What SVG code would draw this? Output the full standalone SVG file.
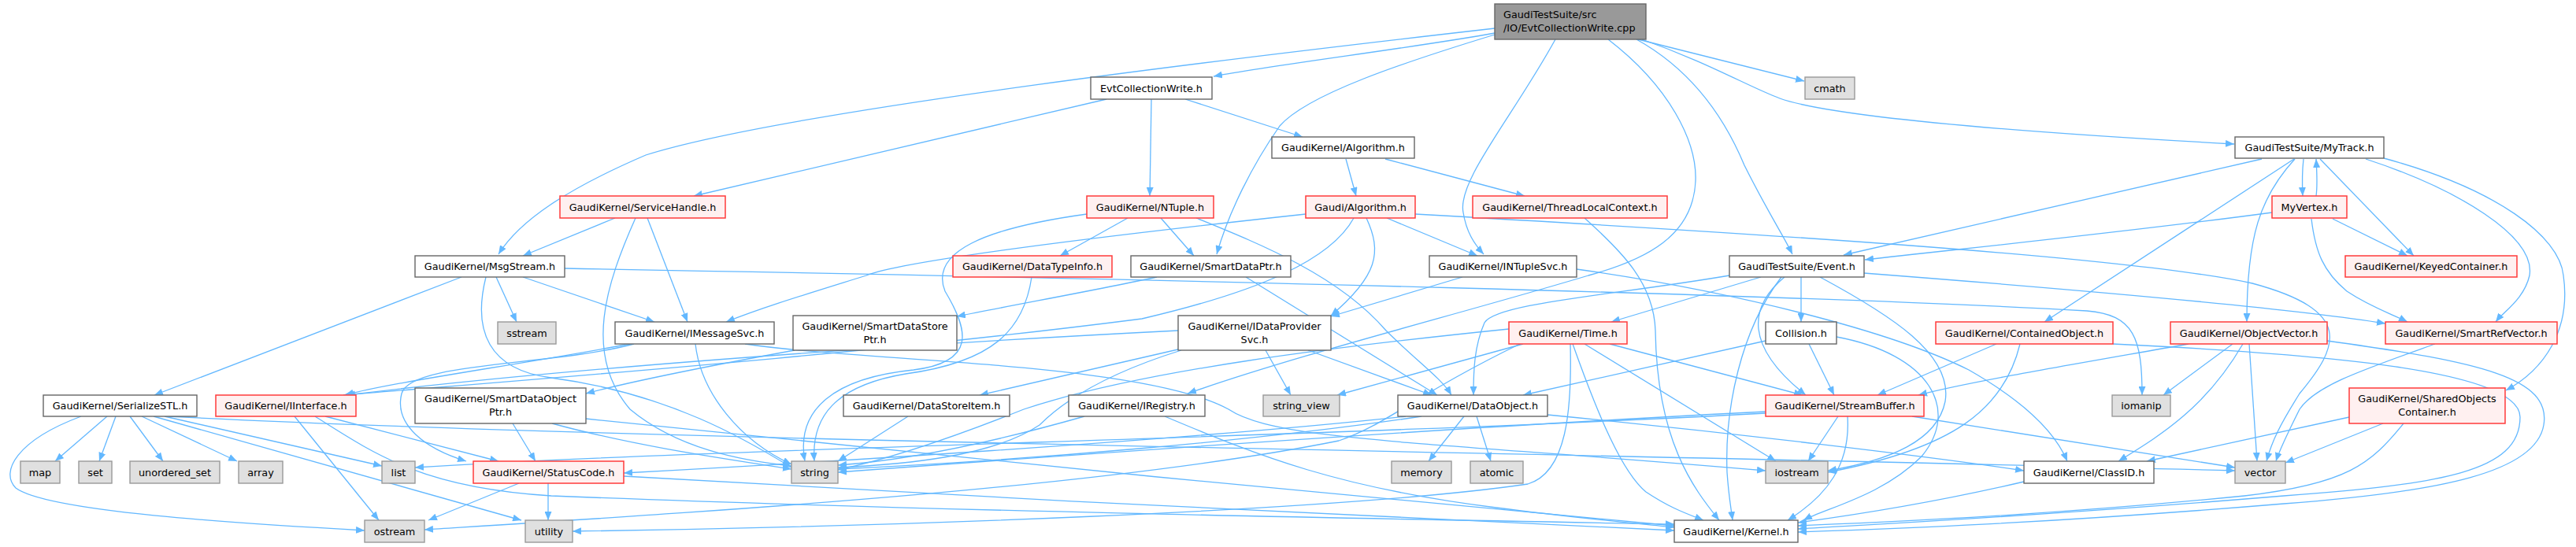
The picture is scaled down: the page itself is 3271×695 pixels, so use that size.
<svg xmlns="http://www.w3.org/2000/svg" width="3271" height="695" viewBox="0 0 3271 695">
<style>
text{font-family:"DejaVu Sans","Liberation Sans",sans-serif;font-size:12.8px;fill:#000;text-anchor:middle}
.n rect{fill:#fff;stroke:#666;stroke-width:1.4}
.r rect{fill:#fff0f0;stroke:#ff3b3b;stroke-width:1.5}
.s rect{fill:#e0e0e0;stroke:#999;stroke-width:1.4}
.m rect{fill:#999;stroke:#666;stroke-width:1.4}
.m text{text-anchor:start}
#edges path{fill:none;stroke:#63b8ff;stroke-width:1.3;marker-end:url(#a)}
</style>
<defs>
<marker id="a" markerUnits="userSpaceOnUse" markerWidth="11" markerHeight="9" refX="11" refY="4.5" orient="auto">
<path d="M0,0 L11,4.5 L0,9 z" fill="#63b8ff"/>
</marker>
</defs>
<rect width="3271" height="695" fill="#fff"/>
<g id="edges">
<path d="M1898,42 C1800,60 1620,82 1541,97"/>
<path d="M1898,36 C1600,70 1000,140 820,197 C720,240 660,280 633,323"/>
<path d="M1898,44 C1780,80 1660,120 1625,160 C1590,210 1560,270 1545,323"/>
<path d="M1975,50 C1920,150 1850,230 1858,270 C1862,295 1872,310 1884,323"/>
<path d="M2042,50 C2120,110 2155,180 2153,230 C2150,300 2090,330 2017,350 C1850,400 1650,450 1508,500"/>
<path d="M2078,50 C2150,90 2190,150 2215,210 C2245,270 2265,300 2276,323"/>
<path d="M2080,50 L2291,103"/>
<path d="M2085,50 C2170,80 2220,110 2260,125 C2330,150 2600,170 2837,183"/>
<path d="M1405,126 L881,249"/>
<path d="M1462,126 L1460,249"/>
<path d="M1505,126 L1654,174"/>
<path d="M1709,202 L1722,249"/>
<path d="M1759,202 L1936,249"/>
<path d="M2872,202 L2341,324"/>
<path d="M2913,202 L2596,409"/>
<path d="M2914,202 C2870,250 2853,300 2853,409"/>
<path d="M2925,202 C2923,220 2923,230 2924,249"/>
<path d="M2941,249 C2943,235 2942,220 2941,202"/>
<path d="M2946,202 L3065,325"/>
<path d="M3004,202 C3120,240 3220,300 3212,350 C3205,380 3180,395 3169,409"/>
<path d="M3027,201 C3170,240 3250,300 3255,350 C3265,420 3230,470 3182,496"/>
<path d="M2885,270 C2700,295 2500,315 2368,330"/>
<path d="M2962,278 L3057,325"/>
<path d="M2935,278 C2940,320 2950,345 2980,370 C3010,390 3035,398 3057,409"/>
<path d="M1797,272 C2200,295 2700,325 2860,360 C2990,395 2970,440 2920,500 C2895,540 2885,560 2878,586"/>
<path d="M1658,272 C1400,300 1150,330 1100,350 C1020,375 970,390 922,409"/>
<path d="M1719,277 C1690,330 1600,370 1450,405 C1100,450 700,480 436,502"/>
<path d="M1735,277 C1755,320 1750,350 1690,401"/>
<path d="M1761,277 L1876,325"/>
<path d="M2012,277 C2060,320 2100,360 2102,420 C2104,560 2150,620 2183,661"/>
<path d="M781,277 L664,325"/>
<path d="M822,277 L873,409"/>
<path d="M807,277 C770,360 740,450 800,520 C860,570 940,585 1005,592"/>
<path d="M1432,277 L1346,325"/>
<path d="M1474,277 L1516,325"/>
<path d="M1519,277 C1600,310 1700,350 1760,420 C1800,460 1830,480 1843,502"/>
<path d="M1380,272 C1250,290 1180,320 1200,370 C1230,420 1240,460 1160,470 C1060,480 1010,520 1022,586"/>
<path d="M586,352 L196,502"/>
<path d="M630,352 L656,409"/>
<path d="M664,352 L831,409"/>
<path d="M617,352 C600,420 620,470 700,480 C850,500 950,560 1005,594"/>
<path d="M717,341 C1500,355 2300,375 2650,395 C2710,400 2720,430 2720,502"/>
<path d="M800,437 C650,465 500,485 438,502"/>
<path d="M883,437 C890,500 940,560 1005,590"/>
<path d="M946,437 C1100,460 1450,460 1560,520 C1620,560 1800,560 2242,598"/>
<path d="M805,437 C700,465 520,460 510,500 C500,540 540,570 592,586"/>
<path d="M1310,352 C1300,420 1260,460 1150,475 C1060,490 1030,530 1034,586"/>
<path d="M1469,352 C1400,367 1300,385 1215,402"/>
<path d="M1582,352 L1825,502"/>
<path d="M1857,352 L1690,402"/>
<path d="M2002,342 C2200,370 2400,420 2500,470 C2570,510 2610,550 2625,586"/>
<path d="M2287,352 L2287,409"/>
<path d="M2196,350 C2050,375 1900,385 1885,410 C1872,440 1871,470 1871,502"/>
<path d="M2236,352 L2046,409"/>
<path d="M2266,352 C2220,390 2215,440 2293,502"/>
<path d="M2262,352 C2210,420 2190,520 2193,600 C2195,630 2198,645 2200,661"/>
<path d="M2311,352 C2400,400 2480,450 2470,510 C2460,560 2400,585 2321,598"/>
<path d="M2367,347 C2600,365 2900,390 3029,411"/>
<path d="M2242,433 L1934,502"/>
<path d="M2297,437 L2329,502"/>
<path d="M2332,428 C2450,450 2490,520 2440,580 C2390,630 2320,645 2290,661"/>
<path d="M1916,418 C1700,440 1450,470 1300,520 C1200,560 1120,585 1064,597"/>
<path d="M1934,437 L1698,502"/>
<path d="M1930,437 C1800,500 1760,540 1700,560 C1400,620 900,650 539,673"/>
<path d="M1994,437 C1996,520 1990,600 1940,615 C1700,650 1100,670 727,675"/>
<path d="M1997,437 C2030,530 2060,600 2090,625 C2120,645 2140,652 2163,661"/>
<path d="M2012,437 L2255,586"/>
<path d="M2044,437 L2289,502"/>
<path d="M2535,437 L2384,502"/>
<path d="M2565,437 C2545,520 2480,570 2321,600"/>
<path d="M2683,437 C2950,450 3200,470 3200,530 C3200,600 3100,615 2900,630 C2600,655 2400,665 2283,672"/>
<path d="M2779,437 C2650,460 2500,485 2436,502"/>
<path d="M2835,437 L2747,502"/>
<path d="M2848,437 C2800,520 2740,555 2690,586"/>
<path d="M2856,437 L2866,586"/>
<path d="M2955,433 C3150,460 3240,480 3230,540 C3220,600 3100,625 2900,640 C2600,665 2400,672 2283,676"/>
<path d="M3092,437 C3000,470 2940,490 2920,520 C2905,550 2895,570 2890,586"/>
<path d="M2983,530 L2726,586"/>
<path d="M3026,538 L2902,588"/>
<path d="M3052,538 C3010,590 2980,615 2850,630 C2600,655 2400,663 2283,668"/>
<path d="M2334,529 L2296,586"/>
<path d="M2346,529 C2350,590 2320,630 2270,661"/>
<path d="M2428,529 L2838,594"/>
<path d="M2242,523 C1900,540 1400,575 1064,600"/>
<path d="M2242,525 C1700,555 900,570 527,594"/>
<path d="M1859,529 L1814,586"/>
<path d="M1875,529 L1893,586"/>
<path d="M1965,527 C2200,550 2450,580 2570,598"/>
<path d="M1805,529 C1600,560 1300,585 1064,596"/>
<path d="M1785,529 C1500,560 1000,590 792,601"/>
<path d="M1496,420 C1100,440 700,470 440,502"/>
<path d="M1500,445 C1420,470 1360,500 1320,540 C1260,580 1150,590 1064,594"/>
<path d="M1500,443 L1244,502"/>
<path d="M1607,445 L1639,502"/>
<path d="M1661,445 L1818,502"/>
<path d="M1153,529 L1064,586"/>
<path d="M1377,529 C1250,565 1150,585 1064,591"/>
<path d="M1479,529 C1600,580 1700,620 1900,645 C2000,658 2080,665 2126,670"/>
<path d="M136,529 L70,586"/>
<path d="M147,529 L126,586"/>
<path d="M165,529 L207,586"/>
<path d="M180,529 L301,586"/>
<path d="M209,529 L485,592"/>
<path d="M195,529 L662,661"/>
<path d="M103,529 C20,560 0,600 20,620 C60,650 300,665 463,674"/>
<path d="M214,529 C800,560 2000,575 2838,598"/>
<path d="M374,529 L481,661"/>
<path d="M413,529 L633,586"/>
<path d="M400,529 C480,580 540,620 700,630 C1200,650 1800,660 2126,666"/>
<path d="M659,614 L544,661"/>
<path d="M696,614 L696,661"/>
<path d="M792,605 C1200,630 1800,660 2126,674"/>
<path d="M651,538 L680,586"/>
<path d="M701,538 C800,565 900,580 1005,596"/>
<path d="M744,532 C1000,560 1800,640 2126,668"/>
<path d="M1009,445 C900,465 800,485 744,500"/>
<path d="M2570,612 C2450,640 2350,655 2283,664"/>
</g>
<g id="n-main" class="m"><rect x="1898" y="5" width="192" height="45"/><text x="1909" y="23">GaudiTestSuite/src</text><text x="1909" y="40">/IO/EvtCollectionWrite.cpp</text></g>
<g id="n-ecw" class="n"><rect x="1385" y="98" width="154" height="28"/><text x="1462" y="116.5">EvtCollectionWrite.h</text></g>
<g id="n-cmath" class="s"><rect x="2292" y="98" width="63" height="28"/><text x="2323.5" y="116.5">cmath</text></g>
<g id="n-gkalg" class="n"><rect x="1615" y="174" width="181" height="27"/><text x="1705.5" y="192">GaudiKernel/Algorithm.h</text></g>
<g id="n-mytrack" class="n"><rect x="2838" y="174" width="189" height="27"/><text x="2932.5" y="192">GaudiTestSuite/MyTrack.h</text></g>
<g id="n-sh" class="r"><rect x="711" y="249" width="210" height="28"/><text x="816" y="267.5">GaudiKernel/ServiceHandle.h</text></g>
<g id="n-ntuple" class="r"><rect x="1380" y="249" width="161" height="28"/><text x="1460.5" y="267.5">GaudiKernel/NTuple.h</text></g>
<g id="n-galg" class="r"><rect x="1658" y="249" width="139" height="28"/><text x="1727.5" y="267.5">Gaudi/Algorithm.h</text></g>
<g id="n-tlc" class="r"><rect x="1870" y="249" width="247" height="28"/><text x="1993.5" y="267.5">GaudiKernel/ThreadLocalContext.h</text></g>
<g id="n-myvertex" class="r"><rect x="2885" y="249" width="95" height="28"/><text x="2932.5" y="267.5">MyVertex.h</text></g>
<g id="n-msgstream" class="n"><rect x="527" y="325" width="190" height="27"/><text x="622" y="343">GaudiKernel/MsgStream.h</text></g>
<g id="n-dti" class="r"><rect x="1210" y="325" width="202" height="27"/><text x="1311" y="343">GaudiKernel/DataTypeInfo.h</text></g>
<g id="n-sdp" class="n"><rect x="1436" y="325" width="203" height="27"/><text x="1537.5" y="343">GaudiKernel/SmartDataPtr.h</text></g>
<g id="n-intuplesvc" class="n"><rect x="1815" y="325" width="187" height="27"/><text x="1908.5" y="343">GaudiKernel/INTupleSvc.h</text></g>
<g id="n-event" class="n"><rect x="2196" y="325" width="171" height="27"/><text x="2281.5" y="343">GaudiTestSuite/Event.h</text></g>
<g id="n-keyed" class="r"><rect x="2978" y="325" width="218" height="27"/><text x="3087" y="343">GaudiKernel/KeyedContainer.h</text></g>
<g id="n-sstream" class="s"><rect x="632" y="409" width="74" height="28"/><text x="669" y="427.5">sstream</text></g>
<g id="n-imsgsvc" class="n"><rect x="781" y="409" width="202" height="28"/><text x="882" y="427.5">GaudiKernel/IMessageSvc.h</text></g>
<g id="n-sdsp" class="n"><rect x="1007" y="401" width="208" height="44"/><text x="1111" y="418.5">GaudiKernel/SmartDataStore</text><text x="1111" y="435.5">Ptr.h</text></g>
<g id="n-idps" class="n"><rect x="1496" y="401" width="194" height="44"/><text x="1593" y="418.5">GaudiKernel/IDataProvider</text><text x="1593" y="435.5">Svc.h</text></g>
<g id="n-time" class="r"><rect x="1916" y="409" width="150" height="28"/><text x="1991" y="427.5">GaudiKernel/Time.h</text></g>
<g id="n-collision" class="n"><rect x="2242" y="409" width="90" height="28"/><text x="2287" y="427.5">Collision.h</text></g>
<g id="n-contobj" class="r"><rect x="2458" y="409" width="225" height="28"/><text x="2570.5" y="427.5">GaudiKernel/ContainedObject.h</text></g>
<g id="n-objvec" class="r"><rect x="2756" y="409" width="199" height="28"/><text x="2855.5" y="427.5">GaudiKernel/ObjectVector.h</text></g>
<g id="n-srv" class="r"><rect x="3029" y="409" width="218" height="28"/><text x="3138" y="427.5">GaudiKernel/SmartRefVector.h</text></g>
<g id="n-serstl" class="n"><rect x="55" y="502" width="195" height="27"/><text x="152.5" y="520">GaudiKernel/SerializeSTL.h</text></g>
<g id="n-iinterface" class="r"><rect x="274" y="502" width="178" height="27"/><text x="363" y="520">GaudiKernel/IInterface.h</text></g>
<g id="n-sdop" class="n"><rect x="527" y="493" width="217" height="45"/><text x="635.5" y="511">GaudiKernel/SmartDataObject</text><text x="635.5" y="528">Ptr.h</text></g>
<g id="n-dsi" class="n"><rect x="1071" y="502" width="211" height="27"/><text x="1176.5" y="520">GaudiKernel/DataStoreItem.h</text></g>
<g id="n-iregistry" class="n"><rect x="1357" y="502" width="173" height="27"/><text x="1443.5" y="520">GaudiKernel/IRegistry.h</text></g>
<g id="n-string_view" class="s"><rect x="1604" y="502" width="97" height="27"/><text x="1652.5" y="520">string_view</text></g>
<g id="n-dataobject" class="n"><rect x="1775" y="502" width="190" height="27"/><text x="1870" y="520">GaudiKernel/DataObject.h</text></g>
<g id="n-streambuffer" class="r"><rect x="2242" y="502" width="201" height="27"/><text x="2342.5" y="520">GaudiKernel/StreamBuffer.h</text></g>
<g id="n-iomanip" class="s"><rect x="2682" y="502" width="74" height="27"/><text x="2719" y="520">iomanip</text></g>
<g id="n-soc" class="r"><rect x="2983" y="493" width="198" height="45"/><text x="3082" y="511">GaudiKernel/SharedObjects</text><text x="3082" y="528">Container.h</text></g>
<g id="n-map" class="s"><rect x="26" y="586" width="50" height="28"/><text x="51" y="604.5">map</text></g>
<g id="n-set" class="s"><rect x="100" y="586" width="42" height="28"/><text x="121" y="604.5">set</text></g>
<g id="n-uset" class="s"><rect x="165" y="586" width="114" height="28"/><text x="222" y="604.5">unordered_set</text></g>
<g id="n-array" class="s"><rect x="303" y="586" width="56" height="28"/><text x="331" y="604.5">array</text></g>
<g id="n-list" class="s"><rect x="485" y="586" width="42" height="28"/><text x="506" y="604.5">list</text></g>
<g id="n-statuscode" class="r"><rect x="601" y="586" width="191" height="28"/><text x="696.5" y="604.5">GaudiKernel/StatusCode.h</text></g>
<g id="n-string" class="s"><rect x="1005" y="586" width="59" height="28"/><text x="1034.5" y="604.5">string</text></g>
<g id="n-memory" class="s"><rect x="1767" y="586" width="76" height="28"/><text x="1805" y="604.5">memory</text></g>
<g id="n-atomic" class="s"><rect x="1867" y="586" width="67" height="28"/><text x="1900.5" y="604.5">atomic</text></g>
<g id="n-iostream" class="s"><rect x="2242" y="586" width="79" height="28"/><text x="2281.5" y="604.5">iostream</text></g>
<g id="n-classid" class="n"><rect x="2570" y="586" width="165" height="28"/><text x="2652.5" y="604.5">GaudiKernel/ClassID.h</text></g>
<g id="n-vector" class="s"><rect x="2838" y="586" width="64" height="28"/><text x="2870" y="604.5">vector</text></g>
<g id="n-ostream" class="s"><rect x="463" y="661" width="76" height="28"/><text x="501" y="679.5">ostream</text></g>
<g id="n-utility" class="s"><rect x="667" y="661" width="60" height="28"/><text x="697" y="679.5">utility</text></g>
<g id="n-kernel" class="n"><rect x="2126" y="661" width="157" height="28"/><text x="2204.5" y="679.5">GaudiKernel/Kernel.h</text></g>
</svg>
